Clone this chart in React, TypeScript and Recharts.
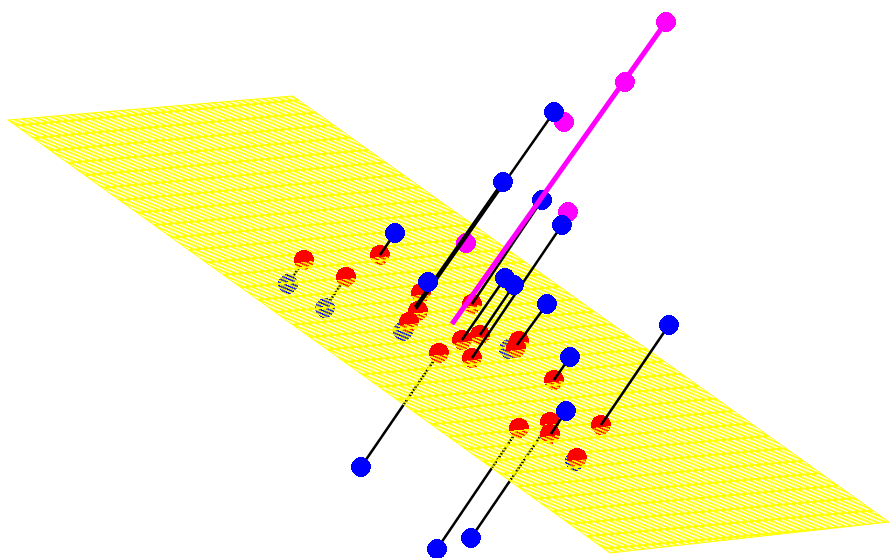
import React from "react";
import { ScatterChart, Scatter, XAxis, YAxis } from "recharts";

type P = { x: number; y: number };
const pt = (x: number, y: number): P => ({ x, y });

// Projected corners of the plane
const planeCorners: P[] = [pt(8, 120), pt(293, 96), pt(889, 522), pt(610, 553)];

// Observations lying on the far side of the plane: [fitted point, observation]
const hiddenSegments: P[][] = [
  [pt(288, 284), pt(304, 260)],
  [pt(325, 308), pt(346, 277)],
  [pt(403, 331), pt(409, 322)],
  [pt(361, 467), pt(439, 353)],
  [pt(437, 549), pt(519, 428)],
  [pt(471, 538), pt(550, 422)],
];
const hiddenBlue: P[] = [pt(288, 284), pt(325, 308), pt(403, 331), pt(509, 349), pt(575, 461)];
const lowBlue: P[] = [pt(361, 467), pt(437, 549), pt(471, 538)];

// Fitted points on the plane
const redPoints: P[] = [
  pt(304, 260), pt(346, 277), pt(380, 255), pt(421, 293), pt(418, 311), pt(409, 322),
  pt(472, 304), pt(462, 340), pt(480, 335), pt(472, 358), pt(519, 341), pt(516, 348),
  pt(439, 353), pt(554, 380), pt(519, 428), pt(550, 422), pt(550, 434), pt(601, 425),
  pt(577, 458),
];

// Observations on the near side
const upperSegments: P[][] = [
  [pt(554, 112), pt(416, 309)],
  [pt(502.5, 182), pt(415, 307)],
  [pt(542, 200), pt(472, 304)],
  [pt(562, 225), pt(472, 358)],
  [pt(505, 278), pt(462, 340)],
  [pt(514, 285), pt(480, 335)],
  [pt(547, 304), pt(517, 345)],
  [pt(570, 357), pt(554, 380)],
  [pt(669, 325), pt(601, 425)],
  [pt(566, 411), pt(551, 434)],
  [pt(395, 233), pt(380, 255)],
];
const blueTop: P[] = [
  pt(554, 112), pt(503, 182), pt(542, 200), pt(562, 225), pt(505, 278), pt(514, 285),
  pt(547, 304), pt(570, 357), pt(669, 325), pt(566, 411), pt(395, 233), pt(428, 282),
];
const magentaPoints: P[] = [pt(666, 22), pt(625, 82), pt(564, 122), pt(568, 212), pt(466, 243)];
const magentaSegment: P[] = [pt(666, 22), pt(452, 324)];

const RED = "#ff0000";
const BLUE = "#0000ff";
const MAGENTA = "#ff00ff";
const YELLOW = "#ffff00";
const R = 10;
const CUT = 2;
const CUT_HALF = Math.sqrt(R * R - CUT * CUT);

const dot = (fill: string) => (p: any) => (
  <circle cx={p.cx} cy={p.cy} r={R} fill={fill} shapeRendering="crispEdges" />
);
const upperHalf = (p: any) => (
  <path
    d={`M${p.cx - CUT_HALF} ${p.cy + CUT} A${R} ${R} 0 1 1 ${p.cx + CUT_HALF} ${p.cy + CUT} Z`}
    fill={RED}
    transform={`rotate(-6 ${p.cx} ${p.cy})`}
    shapeRendering="crispEdges"
  />
);
const noDot = () => <g />;
const planeFill = (p: any) => (
  <polygon
    points={p.points.map((q: any) => `${q.x},${q.y}`).join(" ")}
    fill="url(#planeHatch)"
    stroke={YELLOW}
    strokeWidth={1}
  />
);

const hatchRows = [2, 3, 4, 5, 6, 7, 8, 9, 10, 11, 12, 13];
const HATCH_W = 7;

export default function App() {
  return (
    <div style={{ position: "absolute", left: 0, top: 0, width: 889, height: 558, background: "#fff" }}>
      <ScatterChart width={889} height={558} margin={{ top: 0, right: 0, bottom: 0, left: 0 }}>
        <defs>
          <pattern
            id="planeHatch"
            patternUnits="userSpaceOnUse"
            width={HATCH_W}
            height={14}
            patternTransform="matrix(1 -0.09 0 1 0 0)"
          >
            <rect x={0} y={0} width={HATCH_W} height={2} fill={YELLOW} />
            {hatchRows.map((y, i) => (
              <g key={y} fill={YELLOW}>
                <rect x={(i * 2) % HATCH_W} y={y} width={4} height={1} />
                <rect x={((i * 2) % HATCH_W) - HATCH_W} y={y} width={4} height={1} />
              </g>
            ))}
          </pattern>
        </defs>
        <XAxis type="number" dataKey="x" domain={[0, 889]} hide />
        <YAxis type="number" dataKey="y" domain={[0, 558]} reversed hide />

        {hiddenSegments.map((s, i) => (
          <Scatter key={`h${i}`} data={s} isAnimationActive={false} shape={noDot} line={{ stroke: "#000", strokeWidth: 2.5 }} />
        ))}
        <Scatter data={hiddenBlue} isAnimationActive={false} shape={dot(BLUE)} />
        <Scatter data={redPoints} isAnimationActive={false} shape={dot(RED)} />
        <Scatter data={planeCorners.concat(planeCorners[0])} isAnimationActive={false} shape={noDot} line={planeFill} />
        <Scatter data={redPoints} isAnimationActive={false} shape={upperHalf} />
        <Scatter data={lowBlue} isAnimationActive={false} shape={dot(BLUE)} />
        <Scatter data={magentaPoints} isAnimationActive={false} shape={dot(MAGENTA)} />
        {upperSegments.map((s, i) => (
          <Scatter key={`u${i}`} data={s} isAnimationActive={false} shape={noDot} line={{ stroke: "#000", strokeWidth: 2.5 }} />
        ))}
        <Scatter data={blueTop} isAnimationActive={false} shape={dot(BLUE)} />
        <Scatter data={magentaSegment} isAnimationActive={false} shape={noDot} line={{ stroke: MAGENTA, strokeWidth: 5 }} />
        <Scatter data={magentaPoints.slice(0, 2)} isAnimationActive={false} shape={dot(MAGENTA)} />
      </ScatterChart>
    </div>
  );
}
